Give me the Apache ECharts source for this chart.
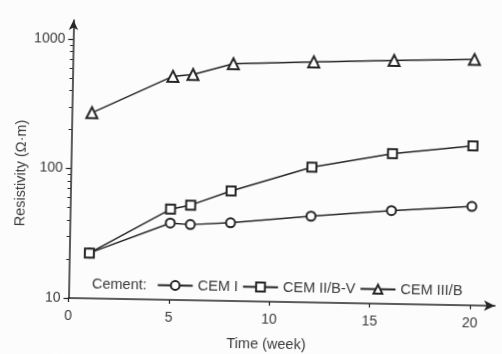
<!DOCTYPE html>
<html>
<head>
<meta charset="utf-8">
<script src="https://cdn.jsdelivr.net/npm/echarts@6/dist/echarts.min.js"></script>
<style>
  html, body { margin: 0; padding: 0; background: #fcfcfc; overflow: hidden; }
  /* slight tilt of the whole figure, pivoting on the axis origin */
  #chart { width: 502px; height: 354px; transform: rotate(1.05deg); transform-origin: 68.5px 298px; }
</style>
</head>
<body>
<div id="chart"></div>
<script>
// Curing time in weeks
const weeks = [1, 5, 6, 8, 12, 16, 20];
// Resistivity (Ω·m) per cement type
const cemI = [22.4, 39.2, 38.4, 40.2, 46.4, 52.6, 58.1];
const cemIIBV = [22.4, 50.2, 54.3, 70.7, 111, 145, 171];
const cemIIIB = [272, 534, 555, 680, 723, 760, 794];

const seriesNames = ['CEM I', 'CEM II/B-V', 'CEM III/B'];
const xTickValues = [0, 5, 10, 15, 20];
const yMajorValues = [10, 100, 1000];
const yMinorValues = [20, 30, 40, 50, 60, 70, 80, 90, 200, 300, 400, 500, 600, 700, 800, 900];

const INK = '#262626';
const TEXT = '#3a3a3a';
const FONT = '"Liberation Sans", Arial, Helvetica, sans-serif';

const chart = echarts.init(document.getElementById('chart'), null, { renderer: 'canvas' });

function pairs(ys) { return weeks.map((w, i) => [w, ys[i]]); }

function lineSeries(name, ys, symbol, size, z) {
  return {
    name: name,
    type: 'line',
    data: pairs(ys),
    symbol: symbol,
    symbolSize: size,
    z: z,
    lineStyle: { color: INK, width: 1.5 },
    itemStyle: { color: INK, borderColor: INK, borderWidth: 1.4 },
    emphasis: { disabled: true },
    animation: false
  };
}

chart.setOption({
  backgroundColor: '#fcfcfc',
  animation: false,
  textStyle: { fontFamily: FONT },
  grid: { left: 68.5, right: 7, top: 20, bottom: 56, containLabel: false },
  xAxis: {
    type: 'value',
    min: 0,
    max: 21.24,
    interval: 5,
    axisLine: { show: true, lineStyle: { color: INK, width: 1.5 }, symbol: ['none', 'arrow'], symbolSize: [8, 11] },
    axisTick: { show: true, inside: false, length: 4, lineStyle: { color: INK, width: 1.2 }, customValues: xTickValues },
    axisLabel: { show: true, margin: 11, color: TEXT, fontSize: 14, fontFamily: FONT, customValues: xTickValues },
    splitLine: { show: false }
  },
  yAxis: [
    {
      type: 'log',
      logBase: 10,
      min: 10,
      max: 1406,
      position: 'left',
      axisLine: { show: true, lineStyle: { color: INK, width: 1.5 }, symbol: ['none', 'arrow'], symbolSize: [7, 10] },
      axisTick: { show: true, inside: false, length: 5, lineStyle: { color: INK, width: 1.2 }, customValues: yMajorValues },
      axisLabel: {
        show: true, margin: 8, color: TEXT, fontSize: 14, fontFamily: FONT,
        customValues: yMajorValues,
        formatter: function (v) { return String(Math.round(v)); }
      },
      splitLine: { show: false }
    },
    {
      type: 'log',
      logBase: 10,
      min: 10,
      max: 1406,
      position: 'left',
      offset: 0,
      axisLine: { show: false },
      axisTick: { show: true, inside: false, length: 3, lineStyle: { color: INK, width: 1 }, customValues: yMinorValues },
      axisLabel: { show: false },
      splitLine: { show: false }
    }
  ],
  legend: {
    data: seriesNames,
    left: 156.5,
    top: 276,
    padding: 0,
    orient: 'horizontal',
    itemWidth: 35,
    itemHeight: 11,
    itemGap: 4,
    selectedMode: false,
    textStyle: { color: TEXT, fontSize: 14.5, fontFamily: FONT }
  },
  graphic: [
    {
      type: 'text',
      x: 91.7,
      y: 283.6,
      style: { text: 'Cement:', fill: TEXT, font: '14.5px ' + FONT, align: 'left', verticalAlign: 'middle' }
    },
    {
      type: 'text',
      x: 266.9,
      y: 341.4,
      style: { text: 'Time (week)', fill: TEXT, font: '14.5px ' + FONT, align: 'center', verticalAlign: 'middle' }
    },
    {
      type: 'text',
      x: 18.7,
      y: 173.9,
      rotation: Math.PI / 2,
      style: { text: 'Resistivity (Ω·m)', fill: TEXT, font: '14.5px ' + FONT, align: 'center', verticalAlign: 'middle' }
    }
  ],
  series: [
    lineSeries(seriesNames[0], cemI, 'emptyCircle', 9, 2),
    lineSeries(seriesNames[1], cemIIBV, 'emptyRect', 9, 3),
    lineSeries(seriesNames[2], cemIIIB, 'emptyTriangle', 11, 4)
  ]
});
</script>
</body>
</html>
